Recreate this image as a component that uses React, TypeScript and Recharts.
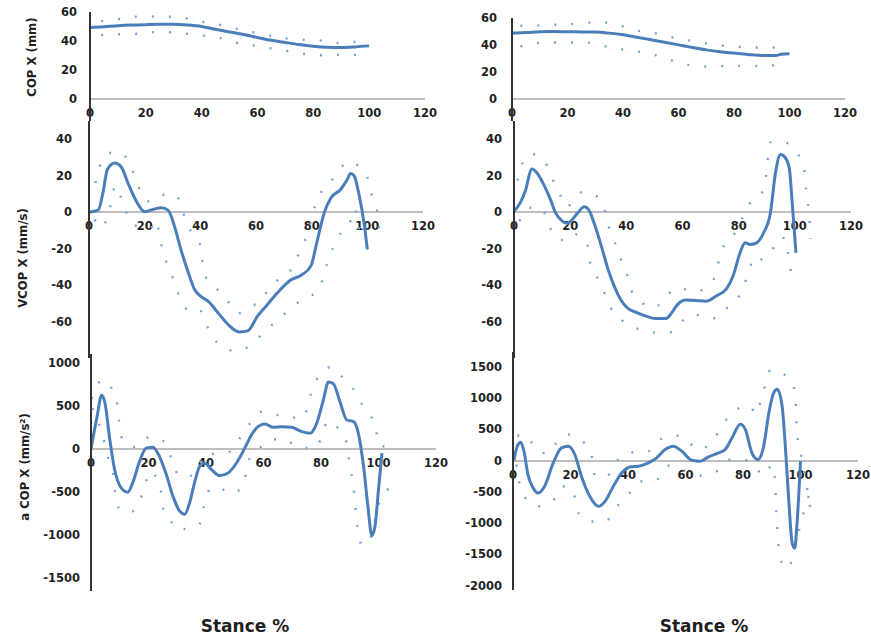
import React from 'react';
import { LineChart, Line, XAxis, YAxis } from 'recharts';

const X_TICKS = [0, 20, 40, 60, 80, 100, 120];

// ---- COP X (left / right) ----
const tlMeanX = [0, 5, 10, 15, 20, 25, 30, 35, 40, 45, 50, 55, 60, 65, 70, 75, 80, 85, 90, 95, 100];
const tlMeanY = [49.3, 49.8, 50.5, 51, 51.3, 51.5, 51.5, 51, 50, 48.1, 46.3, 44.5, 42.5, 40.5, 39, 37.6, 36.5, 35.8, 35.6, 36, 36.7];
const tlUpX = [4, 8, 13, 19, 26, 33, 39, 46, 51, 56, 62, 69, 75, 82, 89, 95, 100];
const tlUpY = [53.8, 54.2, 56.1, 56.9, 56.9, 56.1, 53.6, 51.3, 49.1, 47, 44.7, 42.1, 41, 40.5, 38.7, 39.4, 39.4];
const tlLoX = [4, 7, 13, 19, 25, 33, 39, 45, 51, 56, 63, 69, 76, 83, 90, 96];
const tlLoY = [44, 44.7, 44.7, 45.4, 46.3, 45.4, 44, 42.9, 39.4, 37.8, 35.5, 33.7, 31.4, 30.2, 30.5, 30.5];

const trMeanX = [0, 5, 10, 15, 20, 25, 30, 35, 40, 45, 50, 55, 60, 65, 70, 75, 80, 85, 90, 95, 97, 100];
const trMeanY = [48.8, 49.2, 49.8, 50, 49.8, 49.7, 49.6, 48.8, 47.6, 45.8, 43.9, 42, 40.1, 38.2, 36.4, 35, 34, 33, 32.2, 32.2, 33.2, 33.5];
const trUpX = [3, 8, 13, 19, 23, 29, 34, 39, 45, 53, 59, 66, 73, 80, 87, 92, 97];
const trUpY = [54.3, 54.3, 55, 55, 55.8, 56.7, 56.7, 54.3, 50.8, 48.1, 45.1, 42.6, 40.1, 38.9, 38.2, 38.2, 38.2];
const trLoX = [3, 7, 12, 19, 26, 34, 42, 49, 55, 61, 66, 72, 77, 83, 88, 91, 97];
const trLoY = [38.9, 40.9, 41.9, 41.9, 41.9, 38.9, 35.9, 34, 30.3, 26.5, 24.5, 24, 24.5, 24.5, 24.5, 24.5, 25.8];

// ---- VCOP X ----
const mlMeanX = [0, 3.3, 5, 6.6, 9.3, 11.6, 14, 17, 20, 23, 26, 28.4, 30.7, 33, 35.5, 37.9, 40.3, 42.7, 46.3, 49.9, 54, 57, 60.6, 64.2, 67.7, 72.5, 76.1, 79.7, 82.1, 84.5, 86.9, 90.4, 92.8, 94, 95.2, 97, 98.8, 100];
const mlMeanY = [0, 1.1, 10.6, 23.4, 27, 24.8, 16, 6, 0.2, 1.5, 2.4, 1.1, -7.7, -20.4, -32.3, -42.3, -46.4, -48.7, -55.1, -61.5, -65.7, -65.1, -56.9, -50.5, -44.2, -37.2, -34.7, -29.6, -15, -0.4, 7.8, 12.4, 17.9, 21.2, 20.1, 9.7, -5.8, -20.4];
const mlUpX = [2.3, 3.9, 7.5, 11.6, 13.8, 15.6, 16.8, 18.6, 21.2, 24.8, 27.2, 31.6, 32.8, 34.7, 36.7, 40.1, 40.7, 42.7, 45.7, 48.4, 50.4, 53.4, 58.2, 61.8, 63.6, 66, 69.6, 73.1, 74.9, 76.7, 78.3, 79.9, 81.1, 82.9, 84.5, 87.7, 90.2, 92.8, 97.6, 100.6, 101.8, 103.6, 104.5];
const mlUpY = [16, 25.2, 32.5, 32.5, 28.5, 23, 18.2, 10.6, 6, 6.9, 9.7, 9.1, 3.8, -3.6, -10.9, -18.6, -26.8, -37.8, -42, -45.1, -50, -55.5, -51.5, -49.1, -44.5, -40.5, -34.1, -31, -24.5, -17.7, -13.1, -3.6, 2.9, 9.1, 14.2, 18.4, 23.7, 27.6, 24.6, 16.6, 7.8, 0, -15.3];
const mlLoX = [2, 4.5, 7, 9.6, 12.6, 15.6, 19, 22, 24.2, 25.4, 26.6, 28.4, 30.4, 32, 35.8, 39.5, 41.7, 43.6, 48.1, 52.8, 58.8, 63.4, 68.7, 73.1, 78.5, 83, 84.5, 86.6, 89.5, 93.4, 95.5, 97.5];
const mlLoY = [-4, -8.6, -0.7, 14.6, 2.9, -6.8, -8, -9, -4.4, -13.5, -21.9, -29.6, -37.2, -44.5, -53.6, -52.9, -60.2, -66, -74.3, -76.1, -72.1, -64.8, -58.2, -51.5, -46.9, -41.4, -33.2, -23.7, -13.5, -7.3, 2, -17.2];

const mrMeanX = [0, 2.2, 4, 6.4, 8.2, 10.6, 13, 14.8, 17.2, 19, 20.8, 22.7, 25, 26.9, 28.7, 31.1, 33.5, 35.9, 38.3, 40.7, 43.1, 46.7, 50.4, 54, 55.8, 58.2, 61.2, 64.8, 68.4, 72, 75.7, 78, 80.5, 82.3, 84.1, 85.9, 88.9, 91.3, 93.1, 94.9, 96.7, 98, 99.2, 100.4];
const mrMeanY = [0.5, 5.1, 11.5, 23.7, 21.5, 15.1, 6.9, -0.4, -4.9, -6.2, -4, -0.4, 2.9, 0.5, -6.8, -18.6, -31.4, -41.4, -48.7, -52.9, -54.7, -56.9, -58.4, -58.4, -56, -50.7, -48.2, -48.4, -48.9, -46, -42, -35, -22.3, -16.8, -17.7, -17.2, -11.3, -0.4, 21.5, 31.6, 29.7, 24.3, 2.4, -22.3];
const mrUpX = [1.3, 2.2, 3.6, 5.5, 9.4, 11.8, 13, 14.5, 16.4, 18.1, 22, 24.1, 27.2, 30.8, 32.3, 33.3, 34.9, 36.5, 37.7, 39.3, 40.7, 41.9, 44.9, 48.2, 53, 55.5, 58.6, 64.2, 69.4, 71.4, 72.3, 74.7, 77.8, 81.1, 84, 87, 89.5, 90, 91.3, 96.4, 100, 103.1, 104, 105, 105.7];
const mrUpY = [17.3, 23.4, 28.5, 32.1, 30.3, 25.5, 21.2, 15.1, 9.7, 2.9, 6.9, 10.9, 10.6, 6, 1.1, -5.8, -12.8, -19, -24.5, -30.5, -36.5, -43.2, -48.4, -52.4, -49.6, -44.2, -41.4, -43.8, -39.6, -35.9, -30.5, -18.6, -13.5, -4, 5, 8, 16, 24, 38.3, 38.3, 33.4, 26.1, 12, 0.5, -14.6];
const mrLoX = [1.9, 5.5, 10, 12.4, 16, 20.2, 22, 26, 27.5, 29.9, 31.7, 33.5, 35, 38.9, 44.3, 49.2, 55.4, 59, 62.4, 66.6, 70.8, 74.2, 75.9, 78.7, 81.4, 83.5, 85.9, 88, 90.7, 92.5, 94, 96.5, 97.5, 98.6];
const mrLoY = [-4.9, 2.4, 1.8, -7.3, -15.3, -15.3, -12.2, -17.2, -30.5, -36.5, -42.7, -48.7, -54.2, -60, -64.2, -66, -66, -61.5, -56.4, -56.4, -58.2, -56.4, -52.4, -49.1, -42.3, -33, -24.1, -25.9, -23.7, -19.2, -14.1, -14.1, -21.4, -33.2];

// ---- a COP X ----
const blMeanX = [0, 2.1, 3.7, 4.9, 6.4, 8.1, 10.5, 12.8, 14.5, 16.9, 19.2, 21.5, 23.8, 26.2, 28.5, 30.8, 32.6, 34.3, 36, 37.8, 39.5, 41.9, 44.8, 47.7, 50.6, 53.5, 55.8, 58.1, 60.5, 63.4, 66.3, 69.8, 73.3, 76.2, 78.5, 80.8, 82.6, 84.3, 86.6, 89, 91.3, 93, 94.8, 96.3, 97.7, 98.8, 100, 101.2];
const blMeanY = [0, 372, 622, 526, 142, -223, -453, -503, -395, -146, 8, 19, -88, -299, -549, -721, -760, -625, -395, -203, -165, -242, -311, -280, -165, 8, 161, 257, 288, 249, 257, 249, 200, 180, 295, 564, 775, 756, 545, 334, 315, 180, -203, -664, -1009, -894, -472, -50];
const blUpX = [0.2, 1.7, 3.5, 5.8, 7.6, 9, 9.5, 10.2, 10.8, 15.1, 18.4, 22.1, 26.2, 27.6, 29.1, 30.2, 34.7, 37.2, 39.3, 42.4, 47.7, 50.6, 53.5, 55.6, 59.3, 63.7, 68, 72.7, 75, 76.5, 77.9, 80, 83.5, 86.6, 89.5, 92.4, 94.4, 97.4, 99.1, 99.4, 100, 105.6];
const blUpY = [580, 710, 787, 787, 660, 545, 391, 226, 111, 19, 123, 134, 54, -81, -184, -311, -311, -203, -69, -58, -42, 73, 200, 307, 430, 391, 391, 341, 449, 633, 756, 890, 948, 860, 756, 641, 506, 372, 276, 161, 46, 8];
const blLoX = [0.5, 4.7, 5.8, 7.6, 8.7, 10.8, 14.2, 16, 17.8, 19.2, 20.3, 22.1, 23.3, 24.7, 25.3, 28.5, 29.3, 34.7, 38.7, 39, 40.1, 41.9, 44.8, 48, 52.3, 53.5, 54.1, 55.2, 58.7, 62.8, 67.4, 72.1, 77.9, 80.2, 82.3, 86, 89, 89.5, 90.1, 91.3, 91.9, 92.4, 93, 94.2, 97, 100, 104];
const blLoY = [470, 73, -88, -272, -587, -729, -729, -656, -530, -376, -261, -299, -387, -568, -748, -875, -932, -925, -836, -733, -568, -453, -453, -518, -464, -357, -242, -107, 8, 111, 111, 15, 8, 134, 322, 238, 65, -69, -223, -426, -656, -836, -963, -1124, -1050, -650, -450];

const brMeanX = [0.3, 1.5, 2.7, 3.8, 5.2, 7, 8.7, 11, 14, 16.9, 19.2, 21.5, 23.8, 26.7, 29.7, 32, 34.9, 37.8, 40.7, 43.6, 47.1, 50, 52.9, 55.8, 58.7, 62.2, 65.1, 68, 71.5, 73.8, 76.2, 79.1, 80.8, 83.1, 85.2, 87.2, 89, 90.7, 91.9, 93.6, 94.8, 95.9, 97.1, 98, 98.8, 100];
const brMeanY = [0, 230, 294, 150, -225, -439, -519, -412, -37, 203, 230, 96, -251, -572, -733, -653, -412, -198, -102, -91, -37, 43, 177, 230, 150, 5, -11, 59, 123, 177, 364, 578, 498, 123, 16, 230, 765, 1086, 1140, 872, 177, -626, -1321, -1402, -1000, -11];
const brUpX = [1.5, 5.2, 7.6, 12.2, 15.1, 19.2, 23.3, 26.2, 27.6, 28.5, 32.6, 35.5, 38.4, 42.4, 47.1, 51.2, 56.2, 60.5, 64, 68, 71.3, 73.6, 77.7, 82.6, 84.3, 86.6, 88.4, 89.5, 93, 97.3, 98.3, 98.8, 99.4, 101, 102.5, 103.5];
const brUpY = [401, 391, 187, 112, 284, 417, 326, 203, 27, -251, -251, -48, 96, 134, 150, 337, 401, 337, 177, 241, 444, 615, 819, 872, 738, 1017, 1311, 1450, 1407, 1236, 936, 455, 268, -100, -500, -800];
const brLoX = [1.2, 2.3, 3.8, 8.7, 12.8, 15.5, 17.1, 20.3, 23.3, 27.6, 32.3, 35.1, 38.1, 41.3, 44.2, 47.7, 51.7, 54.4, 59.3, 64.5, 69.8, 72.7, 75.6, 79.9, 83.7, 87.2, 90.3, 91, 91.3, 91.5, 91.9, 92.2, 93.4, 94.8, 95.7, 99, 101, 103];
const brLoY = [-64, -385, -572, -733, -679, -546, -412, -439, -883, -974, -974, -797, -626, -482, -332, -332, -251, -80, -155, -241, -198, -102, 16, 16, -64, -241, -64, -241, -412, -733, -1081, -1295, -1616, -1600, -1707, -1200, -850, -550];

const pts = (xs: number[], ys: number[]) => xs.map((x, i) => ({ x, y: ys[i] }));

const MEAN_COLOR = '#4a7ebb';
const BAND_COLOR = '#7ba3d8';
const TEXT = '#1f1f1f';
const tickStyle = { fontSize: 11.5, fontWeight: 700, fill: TEXT, fontFamily: 'DejaVu Sans, Verdana, sans-serif' };

type PanelSpec = {
  left: number; right: number; top: number; bottom: number; zero: number;
  domain: [number, number]; yTicks: number[]; tickMargin: number;
  mean: { x: number; y: number }[]; up: { x: number; y: number }[]; lo: { x: number; y: number }[];
};

const panels: PanelSpec[] = [
  { left: 90, right: 425, top: 12, bottom: 121, zero: 99, domain: [-15, 60], yTicks: [0, 20, 40, 60], tickMargin: 7,
    mean: pts(tlMeanX, tlMeanY), up: pts(tlUpX, tlUpY), lo: pts(tlLoX, tlLoY) },
  { left: 512, right: 845, top: 18, bottom: 121, zero: 99, domain: [-16.3, 60], yTicks: [0, 20, 40, 60], tickMargin: 9,
    mean: pts(trMeanX, trMeanY), up: pts(trUpX, trUpY), lo: pts(trLoX, trLoY) },
  { left: 89, right: 423, top: 121, bottom: 358, zero: 212, domain: [-80, 50], yTicks: [-60, -40, -20, 0, 20, 40], tickMargin: 11,
    mean: pts(mlMeanX, mlMeanY), up: pts(mlUpX, mlUpY), lo: pts(mlLoX, mlLoY) },
  { left: 514, right: 851, top: 121, bottom: 358, zero: 212, domain: [-80, 50], yTicks: [-60, -40, -20, 0, 20, 40], tickMargin: 6,
    mean: pts(mrMeanX, mrMeanY), up: pts(mrUpX, mrUpY), lo: pts(mrLoX, mrLoY) },
  { left: 91, right: 436, top: 354, bottom: 591, zero: 449, domain: [-1650, 1100], yTicks: [-1500, -1000, -500, 0, 500, 1000], tickMargin: 5,
    mean: pts(blMeanX, blMeanY), up: pts(blUpX, blUpY), lo: pts(blLoX, blLoY) },
  { left: 513, right: 858, top: 352, bottom: 590, zero: 460.5, domain: [-2070, 1735], yTicks: [-2000, -1500, -1000, -500, 0, 500, 1000, 1500], tickMargin: 5,
    mean: pts(brMeanX, brMeanY), up: pts(brUpX, brUpY), lo: pts(brLoX, brLoY) },
];

const axisData = [{ x: 0, y: 0 }, { x: 120, y: 1 }];

function Panel({ p }: { p: PanelSpec }) {
  const yw = 60;
  const plotW = p.right - p.left;
  const H = p.bottom - p.top;
  const pad = 10;
  const axH = 26;
  const above = 12;
  const lm = 12;
  return (
    <>
      <div style={{ position: 'absolute', left: p.left - lm, top: p.zero - above }}>
        <LineChart width={plotW + 30 + lm} height={above + axH} data={axisData} margin={{ top: 0, right: 30, bottom: 0, left: lm }}>
          <XAxis type="number" dataKey="x" domain={[0, 120]} ticks={X_TICKS} interval={0} height={axH}
            axisLine={{ stroke: '#a8a8a8', strokeWidth: 1.6 }} tickLine={false} tickMargin={4} tick={tickStyle} allowDataOverflow />
          <YAxis hide domain={[0, 1]} />
          <Line dataKey="y" stroke="none" dot={false} isAnimationActive={false} />
        </LineChart>
      </div>
      <div style={{ position: 'absolute', left: p.left - yw, top: p.top - pad }}>
        <LineChart width={yw + plotW + 5} height={H + 2 * pad} margin={{ top: pad, right: 5, bottom: pad, left: 0 }}>
          <XAxis type="number" dataKey="x" domain={[0, 120]} hide allowDataOverflow />
          <YAxis type="number" width={yw} domain={p.domain} ticks={p.yTicks} interval={0} allowDataOverflow
            axisLine={{ stroke: '#333333', strokeWidth: 2 }} tickLine={false} tickMargin={p.tickMargin} tick={tickStyle} />
          <Line data={p.up} dataKey="y" type="monotone" stroke={BAND_COLOR} strokeWidth={2.4} strokeDasharray="2 15" dot={false} isAnimationActive={false} />
          <Line data={p.lo} dataKey="y" type="monotone" stroke={BAND_COLOR} strokeWidth={2.4} strokeDasharray="2 15" dot={false} isAnimationActive={false} />
          <Line data={p.mean} dataKey="y" type="monotone" stroke={MEAN_COLOR} strokeWidth={3} dot={false} isAnimationActive={false} />
        </LineChart>
      </div>
    </>
  );
}

const yLabelStyle: React.CSSProperties = {
  position: 'absolute', transform: 'translate(-50%, -50%) rotate(-90deg)', whiteSpace: 'nowrap',
  fontFamily: '"DejaVu Sans Condensed", "DejaVu Sans", sans-serif', fontStretch: 'condensed',
  fontWeight: 700, fontSize: 13, color: TEXT,
};
const xLabelStyle: React.CSSProperties = {
  position: 'absolute', transform: 'translate(-50%, -50%)', whiteSpace: 'nowrap',
  fontFamily: '"DejaVu Sans", Verdana, sans-serif', fontWeight: 700, fontSize: 17, color: TEXT,
};

export default function App() {
  return (
    <div style={{ position: 'absolute', left: 0, top: 0, width: 871, height: 641, background: '#ffffff', overflow: 'hidden' }}>
      {panels.map((p, i) => <Panel key={i} p={p} />)}
      <div style={{ ...yLabelStyle, left: 31, top: 57 }}>COP X (mm)</div>
      <div style={{ ...yLabelStyle, left: 22, top: 258 }}>VCOP X (mm/s)</div>
      <div style={{ ...yLabelStyle, left: 24, top: 467 }}>a COP X (mm/s²)</div>
      <div style={{ ...xLabelStyle, left: 245, top: 626 }}>Stance %</div>
      <div style={{ ...xLabelStyle, left: 704, top: 626 }}>Stance %</div>
    </div>
  );
}
